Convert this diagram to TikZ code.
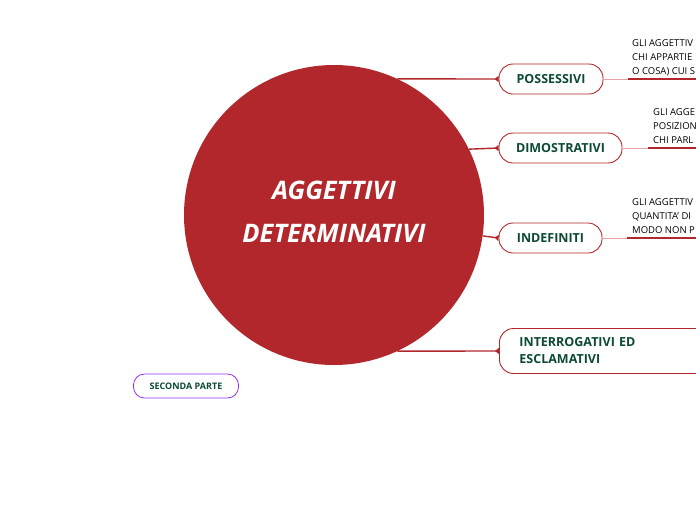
\documentclass[tikz,border=0pt]{standalone}
\usepackage{fontspec}
\setmainfont{Open Sans}
\usetikzlibrary{arrows.meta}
\definecolor{mainred}{HTML}{B2272B}
\definecolor{lightred}{HTML}{E9A3A5}
\definecolor{darkgreen}{HTML}{0D4A36}
\definecolor{purp}{HTML}{9B2FF0}
\tikzset{
  topic/.style={draw=mainred, line width=0.9pt, rounded corners=14pt, fill=white,
    text=darkgreen, font=\fontsize{12.5}{17}\selectfont\bfseries, minimum height=30pt, inner sep=0pt},
  link/.style={draw=mainred, line width=1.4pt, -{Triangle[reversed,length=4pt,width=6pt]}},
  thin/.style={draw=lightred, line width=0.8pt},
  under/.style={draw=mainred, line width=1.4pt},
  detail/.style={anchor=north west, align=left, inner sep=0pt, text=black,
    font=\fontsize{9.5}{14}\selectfont},
}
\begin{document}
\begin{tikzpicture}[x=1pt,y=-1pt]
\useasboundingbox (0,0) rectangle (696,520);
\clip (0,0) rectangle (696,520);
% central circle
\node[circle, fill=mainred, minimum size=300pt, inner sep=0pt] (c) at (334,215) {};
\node[text=white, align=center, font=\fontsize{25.5}{43}\selectfont\bfseries\itshape] (title) at (334,212)
  {AGGETTIVI\\DETERMINATIVI};
% topics
\node[topic, minimum width=104pt] (pos) at (551,79) {POSSESSIVI};
\node[topic, minimum width=123pt] (dim) at (560.5,148) {DIMOSTRATIVI};
\node[topic, minimum width=103pt] (ind) at (550.5,238) {INDEFINITI};
\node[topic, minimum width=240pt, minimum height=45pt, anchor=west, align=left,
  text width=220pt, inner xsep=20pt] (int) at (499,351) {INTERROGATIVI ED\\ESCLAMATIVI};
\node[topic, draw=purp, line width=0.8pt, rounded corners=11pt, minimum width=105pt,
  minimum height=24pt, font=\fontsize{9}{11}\selectfont\bfseries] (sec) at (186,386) {SECONDA PARTE};
% connectors from the circle
\draw[link] (c.65) -- (pos.west);
\draw[link] (c.26.5) -- (dim.west);
\draw[link] (c.-8.8) -- (ind.west);
\draw[link] (c.-65) -- (int.west);
% detail texts
\node[detail] (t1) at (632,39.5) {GLI AGGETTIV\\CHI APPARTIE\\O COSA) CUI S};
\node[detail] (t2) at (653,108.5) {GLI AGGE\\POSIZION\\CHI PARL};
\node[detail] (t3) at (632,198.5) {GLI AGGETTIV\\QUANTITA' DI\\MODO NON P};
\coordinate (u1) at (628,79);
\coordinate (e1) at (700,79);
\coordinate (u2) at (648,148);
\coordinate (e2) at (700,148);
\coordinate (u3) at (627,238);
\coordinate (e3) at (700,238);
\draw[thin] (pos.east) -- (u1);
\draw[under] (u1) -- (e1);
\draw[thin] (dim.east) -- (u2);
\draw[under] (u2) -- (e2);
\draw[thin] (ind.east) -- (u3);
\draw[under] (u3) -- (e3);
\end{tikzpicture}
\end{document}
